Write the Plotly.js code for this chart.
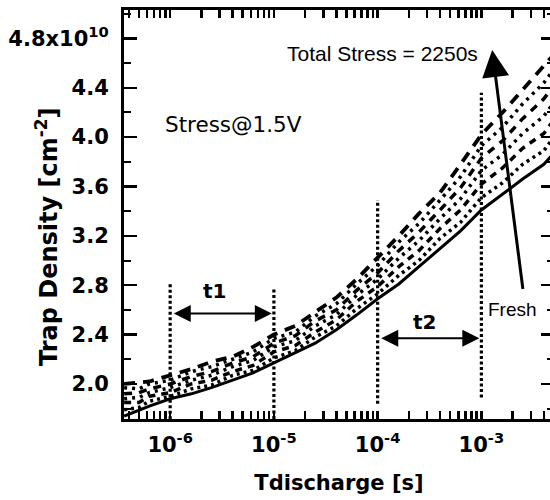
<!DOCTYPE html>
<html>
<head>
<meta charset="utf-8">
<script src="https://cdn.plot.ly/plotly-3.0.1.min.js"></script>
<style>
html,body{margin:0;padding:0;overflow:hidden;background:#fff;}
#chart{width:560px;height:500px;}
</style>
</head>
<body>
<div id="chart"></div>
<script>
// Discharge time [s]
const tDischarge = [3.6e-7,5e-7,6.3e-7,1e-6,1.6e-6,2.5e-6,4e-6,6.3e-6,1e-5,1.6e-5,2.5e-5,4e-5,6.3e-5,1e-4,1.6e-4,2.5e-4,4e-4,6.3e-4,1e-3,1.6e-3,2.5e-3,4e-3,5e-3];
// Trap density, units of 1e10 cm^-2
const fresh   = [1.74,1.79,1.82,1.88,1.92,1.97,2.03,2.09,2.17,2.25,2.33,2.44,2.56,2.69,2.81,2.95,3.10,3.24,3.41,3.54,3.66,3.78,3.87];
const stress1 = [1.79,1.81,1.86,1.90,1.96,1.99,2.07,2.11,2.21,2.27,2.38,2.47,2.61,2.73,2.88,3.00,3.18,3.31,3.51,3.63,3.78,3.89,4.00];
const stress2 = [1.85,1.85,1.90,1.93,2.00,2.03,2.10,2.15,2.26,2.31,2.42,2.52,2.67,2.79,2.95,3.08,3.26,3.41,3.62,3.75,3.91,4.03,4.14];
const stress3 = [1.88,1.89,1.93,1.97,2.03,2.07,2.14,2.19,2.30,2.35,2.47,2.56,2.72,2.85,3.02,3.16,3.34,3.50,3.73,3.86,4.03,4.17,4.28];
const stress4 = [1.92,1.93,1.96,2.00,2.06,2.10,2.17,2.22,2.33,2.39,2.51,2.60,2.76,2.90,3.08,3.23,3.41,3.59,3.83,3.97,4.15,4.31,4.42];
const stress5 = [1.97,1.96,2.00,2.03,2.10,2.14,2.20,2.26,2.37,2.42,2.55,2.65,2.81,2.96,3.15,3.30,3.49,3.68,3.93,4.08,4.27,4.44,4.55];
const stress6 = [2.00,2.01,2.02,2.07,2.12,2.18,2.22,2.30,2.40,2.47,2.58,2.70,2.85,3.02,3.20,3.38,3.55,3.78,4.02,4.20,4.38,4.58,4.67];

// Marker lines for t1 / t2 intervals: time and vertical extent
const markerTimes = [1e-6, 1e-5, 1e-4, 1e-3];
const markerLow   = [1.67, 1.716, 1.84, 1.89];
const markerHigh  = [2.81, 2.78, 3.49, 4.36];

const yTickVals = [2.0,2.4,2.8,3.2,3.6,4.0,4.4,4.8];
const yTickText = ['2.0','2.4','2.8','3.2','3.6','4.0','4.4','4.8x10<sup>10</sup>'];
// x ticks: decades labelled, intermediate log ticks unlabelled
const xTickVals = [4e-7,5e-7,6e-7,7e-7,8e-7,9e-7,1e-6,
  2e-6,3e-6,4e-6,5e-6,6e-6,7e-6,8e-6,9e-6,1e-5,
  2e-5,3e-5,4e-5,5e-5,6e-5,7e-5,8e-5,9e-5,1e-4,
  2e-4,3e-4,4e-4,5e-4,6e-4,7e-4,8e-4,9e-4,1e-3,
  2e-3,3e-3,4e-3];
const xTickText = ['','','','','','','10<sup>-6</sup>',
  '','','','','','','','','10<sup>-5</sup>',
  '','','','','','','','','10<sup>-4</sup>',
  '','','','','','','','','10<sup>-3</sup>',
  '','',''];

const series = [
  {y: fresh,   dash: 'solid',    w: 3},
  {y: stress1, dash: '3px,4px',  w: 3.5},
  {y: stress2, dash: '7px,6px',  w: 3.5},
  {y: stress3, dash: '3px,5px',  w: 3.5},
  {y: stress4, dash: '8px,7px',  w: 3.5},
  {y: stress5, dash: '3px,5px',  w: 3.5},
  {y: stress6, dash: '11px,8px', w: 3.8}
];
const traces = series.map(s => ({
  x: tDischarge, y: s.y, type: 'scatter', mode: 'lines',
  line: {color: '#000', width: s.w, dash: s.dash},
  hoverinfo: 'skip', showlegend: false
}));
markerTimes.forEach((t, i) => {
  traces.push({
    x: [t, t], y: [markerLow[i], markerHigh[i]], type: 'scatter', mode: 'lines',
    line: {color: '#000', width: 3.2, dash: '3px,2.5px'},
    hoverinfo: 'skip', showlegend: false, cliponaxis: false
  });
});

const bold = {family: 'DejaVu Sans', size: 21, color: '#000', weight: 'bold'};

const layout = {
  width: 560, height: 500,
  margin: {l: 124, r: 6, t: 10, b: 81},
  paper_bgcolor: '#fff', plot_bgcolor: '#fff',
  showlegend: false,
  xaxis: {
    type: 'log', range: [-6.445, -2.30],
    tickmode: 'array', tickvals: xTickVals, ticktext: xTickText,
    ticks: 'inside', ticklen: 8, tickwidth: 2.5, tickcolor: '#000',
    showline: true, linewidth: 3, linecolor: '#000', mirror: 'allticks',
    showgrid: false, zeroline: false,
    tickfont: bold, ticklabelstandoff: 5,
    title: {text: 'Tdischarge [s]', font: {family: 'DejaVu Sans', size: 21, color: '#000', weight: 'bold'}, standoff: 20}
  },
  yaxis: {
    range: [1.716, 5.03],
    tickmode: 'array', tickvals: yTickVals, ticktext: yTickText,
    ticks: 'inside', ticklen: 13, tickwidth: 2.5, tickcolor: '#000',
    minor: {ticks: 'inside', ticklen: 7, tickwidth: 2, tickcolor: '#000', tickmode: 'linear', tick0: 2.0, dtick: 0.2, showgrid: false},
    showline: true, linewidth: 3, linecolor: '#000', mirror: 'allticks',
    showgrid: false, zeroline: false,
    tickfont: bold, ticklabelstandoff: 8
  },
  annotations: [
    {xref: 'paper', yref: 'paper', x: -0.179, y: 0.445, xanchor: 'center', yanchor: 'middle',
     text: 'Trap Density [cm<sup>-2</sup>]', textangle: -90, showarrow: false,
     font: {family: 'DejaVu Sans', size: 24, color: '#000', weight: 'bold'}},
    {xref: 'x', yref: 'y', x: -5.39, y: 4.10, text: 'Stress@1.5V', showarrow: false,
     font: {family: 'DejaVu Sans', size: 21.5, color: '#000'}},
    {xref: 'x', yref: 'y', x: -3.955, y: 4.68, text: 'Total Stress = 2250s', showarrow: false,
     font: {family: 'Liberation Sans', size: 21, color: '#000'}},
    {xref: 'x', yref: 'y', x: -2.70, y: 2.60, text: 'Fresh', showarrow: false,
     font: {family: 'Liberation Sans', size: 19, color: '#000'}},
    {xref: 'x', yref: 'y', x: -5.57, y: 2.75, text: 't1', showarrow: false,
     font: {family: 'DejaVu Sans', size: 20, color: '#000', weight: 'bold'}},
    {xref: 'x', yref: 'y', x: -3.55, y: 2.50, text: 't2', showarrow: false,
     font: {family: 'DejaVu Sans', size: 20, color: '#000', weight: 'bold'}},
    {xref: 'x', yref: 'y', axref: 'x', ayref: 'y', x: -2.896, y: 4.705, ax: -2.598, ay: 2.757,
     text: '', showarrow: true, arrowhead: 2, arrowsize: 1.8, arrowwidth: 3, arrowcolor: '#000'},
    {xref: 'x', yref: 'y', axref: 'x', ayref: 'y', x: -5.02, y: 2.57, ax: -5.98, ay: 2.57,
     text: '', showarrow: true, arrowhead: 2, arrowside: 'end+start', arrowsize: 1.7, arrowwidth: 2, arrowcolor: '#000'},
    {xref: 'x', yref: 'y', axref: 'x', ayref: 'y', x: -3.02, y: 2.37, ax: -3.98, ay: 2.37,
     text: '', showarrow: true, arrowhead: 2, arrowside: 'end+start', arrowsize: 1.7, arrowwidth: 2, arrowcolor: '#000'}
  ]
};

Plotly.newPlot('chart', traces, layout, {displayModeBar: false, staticPlot: true});
</script>
</body>
</html>
